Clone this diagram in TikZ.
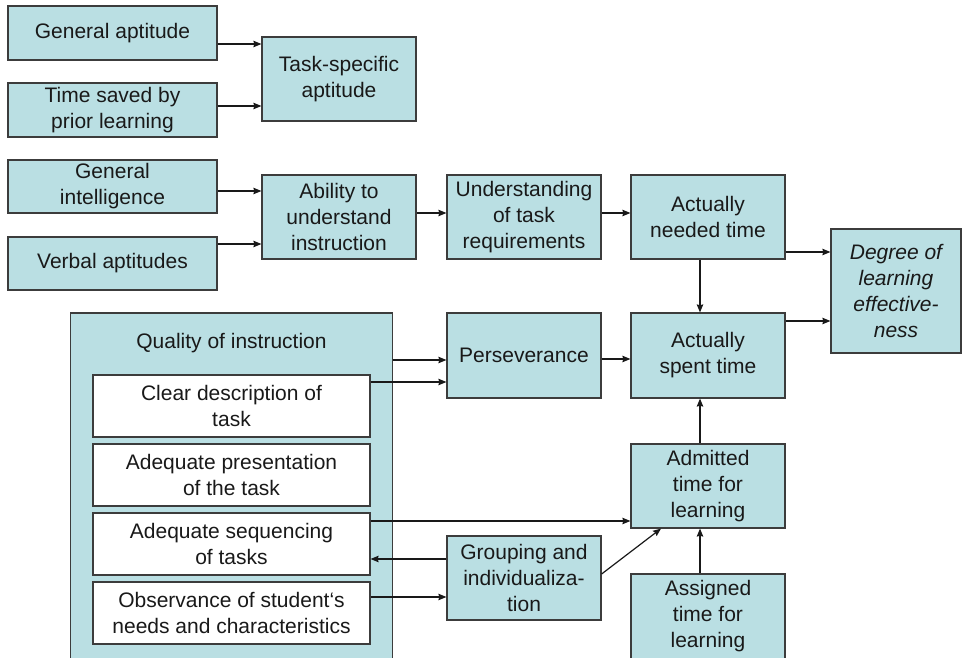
\documentclass[tikz,border=0pt]{standalone}
\usepackage{fontspec}
\setmainfont{Liberation Sans}
\usepackage{tikz}
\usetikzlibrary{arrows,arrows.meta,positioning}

\definecolor{boxc}{RGB}{186,223,227}
\definecolor{linec}{RGB}{60,60,60}
\definecolor{textc}{RGB}{25,25,25}

\tikzset{
  txt/.style={text=textc,font=\fontsize{21}{26}\selectfont,align=center},
  box/.style={txt,draw=linec,fill=boxc,line width=1.2pt,inner sep=0pt,
              minimum width=154pt,minimum height=84pt},
  leftbox/.style={box,minimum width=209pt,minimum height=54pt},
  subbox/.style={box,fill=white,minimum width=277pt,minimum height=62pt}
}

\begin{document}
\begin{tikzpicture}[x=1pt,y=-1pt,->,>={Stealth[length=8pt,width=6.5pt,inset=1pt]},
                    line width=1.2pt,draw=textc]
\useasboundingbox (0,0) rectangle (962,658);
\clip (0,0) rectangle (962,658);

 \node [leftbox]  (ga) at (112.5,33)   {General aptitude};
 \node [leftbox]  (ts) at (112.5,110)  {Time saved by\\prior learning};
 \node [leftbox, minimum height=53pt] (gi) at (112.5,186.5) {General\\intelligence};
 \node [leftbox, minimum height=53pt] (va) at (112.5,263.5) {Verbal aptitudes};

 \node [box]      (tsa) at (339,79)   {Task-specific\\aptitude};
 \node [box]      (abi) at (339,217)  {Ability to\\understand\\instruction};
 \node [box]      (und) at (524,217)  {Understanding\\of task\\requirements};
 \node [box]      (need) at (708,217) {Actually\\needed time};
 \node [box, minimum width=130pt, minimum height=124pt, font=\fontsize{21}{26}\selectfont\itshape]
                  (deg) at (896,291)  {Degree of\\learning\\effective-\\ness};

 \node [box, minimum height=85pt] (pers) at (524,355.5)  {Perseverance};
 \node [box, minimum height=85pt] (spent) at (708,355.5) {Actually\\spent time};
 \node [box]      (adm) at (708,486)  {Admitted\\time for\\learning};
 \node [box]      (grp) at (524,578)  {Grouping and\\individualiza-\\tion};
 \node [box, minimum height=110pt,
        label={[txt,yshift=13pt]center:Assigned\\time for\\learning}] (asg) at (708,629) {};

 % quality of instruction
 \node [box, minimum width=322pt, minimum height=387pt] (qual) at (231.5,506.5) {};
 \node [txt]      (qtit) at (231.5,343)  {Quality of instruction};
 \node [subbox]   (cd)  at (231.5,406)   {Clear description of\\task};
 \node [subbox]   (pre) at (231.5,475)   {Adequate presentation\\of the task};
 \node [subbox]   (seq) at (231.5,544)   {Adequate sequencing\\of tasks};
 \node [subbox]   (obs) at (231.5,613)   {Observance of student‘s\\needs and characteristics};

 \path ([yshift=-11pt]ga.east)  edge ([yshift=-11pt]ga.east -| tsa.west)
       ([yshift=4pt]ts.east)    edge ([yshift=4pt]ts.east -| tsa.west)
       ([yshift=-4.5pt]gi.east) edge ([yshift=-4.5pt]gi.east -| abi.west)
       ([yshift=19.5pt]va.east) edge ([yshift=19.5pt]va.east -| abi.west)

       ([yshift=4pt]abi.east)   edge ([yshift=4pt]abi.east -| und.west)
       ([yshift=4pt]und.east)   edge ([yshift=4pt]und.east -| need.west)
       ([yshift=-35pt]need.east) edge ([yshift=-35pt]need.east -| deg.west)
       ([yshift=34.5pt]spent.east) edge ([yshift=34.5pt]spent.east -| deg.west)
       ([xshift=-8pt]need.south) edge ([xshift=-8pt]spent.north)

       ([yshift=-4.5pt]pers.west -| qual.east) edge ([yshift=-4.5pt]pers.west)
       ([yshift=-26.5pt]pers.west -| cd.east)  edge ([yshift=-26.5pt]pers.west)
       ([yshift=-3.5pt]pers.east) edge ([yshift=-3.5pt]pers.east -| spent.west)

       ([xshift=-8pt]adm.north)   edge ([xshift=-8pt]spent.south)
       ([xshift=-8pt]asg.north)   edge ([xshift=-8pt]adm.south)
       ([yshift=-35pt]adm.west -| seq.east) edge ([yshift=-35pt]adm.west)
       ([yshift=4pt]grp.east)     edge ([xshift=-47pt]adm.south)
       ([yshift=19pt]grp.west)    edge ([yshift=19pt]grp.west -| seq.east)
       ([yshift=-19pt]grp.west -| obs.east) edge ([yshift=-19pt]grp.west)
;
\end{tikzpicture}
\end{document}
